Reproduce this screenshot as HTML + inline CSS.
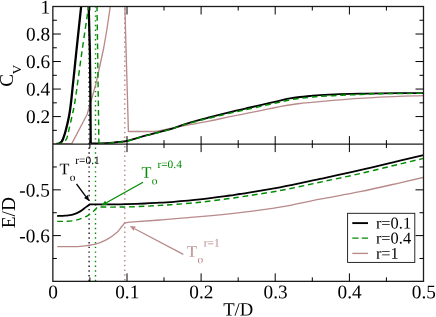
<!DOCTYPE html>
<html><head><meta charset="utf-8"><title>chart</title>
<style>html,body{margin:0;padding:0;background:#fff;}body{width:436px;height:317px;position:relative;overflow:hidden;font-family:"Liberation Serif",serif;}</style></head>
<body>
<svg width="436" height="317" viewBox="0 0 436 317" style="position:absolute;left:0;top:0;will-change:transform">
<rect x="0" y="0" width="436" height="317" fill="#fff"/>
<defs><clipPath id="cu"><rect x="52.85" y="6.5" width="370.65" height="137.6"/></clipPath><clipPath id="cl"><rect x="52.85" y="144.1" width="370.65" height="137.25000000000003"/></clipPath></defs>
<g fill="none" stroke-dasharray="1.4 3.32">
<line x1="89.1" y1="281.15000000000003" x2="89.1" y2="6.5" stroke="#000" stroke-width="1.3"/>
<line x1="95.5" y1="281.15000000000003" x2="95.5" y2="6.5" stroke="#008b00" stroke-width="1.4"/>
<line x1="124.8" y1="280.5" x2="124.8" y2="6.5" stroke="#b98a8b" stroke-width="1.4" stroke-dasharray="1.4 3.35"/>
</g>
<g clip-path="url(#cu)" fill="none" stroke-linejoin="round">
<path d="M53.0,143.6 L71.8,143.6 L87.2,114.3 L95.9,84.0 L103.7,48.0 L106.8,30.0 L110.3,6.5 L111.3,0.0" stroke="#b98a8b" stroke-width="1.35"/>
<path d="M124.7,0.0 L124.9,6.5 L125.9,44.0 L128.4,131.5 L152.8,131.5" stroke="#b98a8b" stroke-width="1.35"/>
<path d="M152.80,131.50 C154.00,131.35 157.05,131.12 160.00,130.60 C162.95,130.08 165.50,129.40 170.50,128.40 C175.50,127.40 183.42,125.85 190.00,124.60 C196.58,123.35 203.33,122.22 210.00,120.90 C216.67,119.58 223.33,118.07 230.00,116.70 C236.67,115.33 243.33,114.03 250.00,112.70 C256.67,111.37 265.00,109.72 270.00,108.70 C275.00,107.68 275.00,107.47 280.00,106.60 C285.00,105.73 293.33,104.33 300.00,103.50 C306.67,102.67 313.33,102.22 320.00,101.60 C326.67,100.98 330.00,100.55 340.00,99.80 C350.00,99.05 366.08,97.80 380.00,97.10 C393.92,96.40 416.25,95.85 423.50,95.60" stroke="#b98a8b" stroke-width="1.35"/>
<path d="M56.50,144.00 C56.83,143.95 57.65,144.08 58.50,143.70 C59.35,143.32 60.78,142.67 61.60,141.70 C62.42,140.73 62.70,139.80 63.40,137.90 C64.10,136.00 64.83,134.08 65.80,130.30 C66.77,126.52 68.28,120.25 69.20,115.20 C70.12,110.15 70.12,110.53 71.30,100.00 C72.48,89.47 74.66,67.58 76.30,52.00 C77.94,36.42 80.23,15.17 81.15,6.50 C82.08,-2.17 81.73,1.08 81.85,0.00" stroke="#000" stroke-width="2.3"/>
<path d="M88.5,0.0 L88.7,6.5 L89.9,52.0 L90.3,84.0 L90.7,143.3" stroke="#000" stroke-width="2.3"/>
<path d="M90.70,143.30 C92.25,143.30 96.28,143.42 100.00,143.30 C103.72,143.18 109.67,142.83 113.00,142.60 C116.33,142.37 117.67,142.18 120.00,141.90 C122.33,141.62 122.80,141.93 127.00,140.90 C131.20,139.87 137.95,137.67 145.20,135.70 C152.45,133.73 164.70,130.75 170.50,129.10 C176.30,127.45 176.75,126.87 180.00,125.80 C183.25,124.73 186.08,123.87 190.00,122.70 C193.92,121.53 200.17,119.72 203.50,118.80 C206.83,117.88 207.25,117.88 210.00,117.20 C212.75,116.52 215.67,115.78 220.00,114.70 C224.33,113.62 231.00,111.90 236.00,110.70 C241.00,109.50 244.33,108.80 250.00,107.50 C255.67,106.20 265.00,104.05 270.00,102.90 C275.00,101.75 276.67,101.35 280.00,100.60 C283.33,99.85 286.67,99.00 290.00,98.40 C293.33,97.80 296.67,97.40 300.00,97.00 C303.33,96.60 306.67,96.32 310.00,96.00 C313.33,95.68 315.00,95.40 320.00,95.10 C325.00,94.80 333.33,94.43 340.00,94.20 C346.67,93.97 353.33,93.85 360.00,93.70 C366.67,93.55 369.42,93.40 380.00,93.30 C390.58,93.20 416.25,93.13 423.50,93.10" stroke="#000" stroke-width="1.8"/>
<path d="M56.50,144.20 C57.08,144.08 58.60,144.05 60.00,143.50 C61.40,142.95 63.75,141.83 64.90,140.90 C66.05,139.97 66.25,139.67 66.90,137.90 C67.55,136.13 67.92,134.08 68.80,130.30 C69.68,126.52 71.13,120.25 72.20,115.20 C73.27,110.15 73.58,110.53 75.20,100.00 C76.82,89.47 79.67,67.58 81.90,52.00 C84.13,36.42 87.33,15.17 88.60,6.50 C89.87,-2.17 89.35,1.08 89.50,0.00" stroke="#008b00" stroke-width="1.45" stroke-dasharray="5.7 3.8"/>
<path d="M96.9,0.0 L97.0,6.5 L98.9,143.8 " stroke="#008b00" stroke-width="1.45" stroke-dasharray="5.7 3.8" stroke-dashoffset="4"/>
<path d="M98.90,143.80 C101.25,143.64 109.48,143.09 113.00,142.81 C116.52,142.53 117.67,142.40 120.00,142.12 C122.33,141.83 122.80,142.15 127.00,141.12 C131.20,140.09 137.95,137.89 145.20,135.93 C152.45,133.97 164.70,130.99 170.50,129.34 C176.30,127.70 176.75,127.09 180.00,126.05 C183.25,125.01 186.08,124.23 190.00,123.12 C193.92,122.02 200.17,120.31 203.50,119.45 C206.83,118.58 207.25,118.58 210.00,117.93 C212.75,117.29 215.67,116.60 220.00,115.57 C224.33,114.54 231.00,112.90 236.00,111.76 C241.00,110.62 244.33,109.94 250.00,108.70 C255.67,107.46 265.00,105.40 270.00,104.30 C275.00,103.20 276.67,102.84 280.00,102.10 C283.33,101.36 286.67,100.47 290.00,99.85 C293.33,99.23 296.67,98.82 300.00,98.40 C303.33,97.98 306.67,97.68 310.00,97.35 C313.33,97.02 315.00,96.74 320.00,96.40 C325.00,96.06 333.33,95.62 340.00,95.30 C346.67,94.98 353.33,94.77 360.00,94.50 C366.67,94.23 369.42,93.90 380.00,93.70 C390.58,93.50 416.25,93.37 423.50,93.30" stroke="#008b00" stroke-width="1.45" stroke-dasharray="5.7 3.8"/>
</g>
<g clip-path="url(#cl)" fill="none" stroke-linejoin="round">
<path d="M57.20,246.70 C59.33,246.68 66.17,246.67 70.00,246.60 C73.83,246.53 75.97,246.72 80.20,246.30 C84.43,245.88 90.98,245.20 95.40,244.10 C99.82,243.00 103.23,241.53 106.70,239.70 C110.17,237.87 113.68,235.30 116.20,233.10 C118.72,230.90 120.45,228.15 121.80,226.50 C123.15,224.85 123.88,223.75 124.30,223.20 L124.30,223.20 C125.25,223.03 124.05,222.73 130.00,222.20 C135.95,221.67 148.33,220.92 160.00,220.00 C171.67,219.08 186.67,217.93 200.00,216.70 C213.33,215.47 226.67,214.18 240.00,212.60 C253.33,211.02 266.67,209.43 280.00,207.20 C293.33,204.97 306.67,201.78 320.00,199.20 C333.33,196.62 346.67,194.43 360.00,191.70 C373.33,188.97 389.33,185.22 400.00,182.80 C410.67,180.38 420.00,178.13 424.00,177.20" stroke="#b98a8b" stroke-width="1.35"/>
<path d="M57.20,216.00 C58.50,215.95 62.42,215.92 65.00,215.70 C67.58,215.48 70.17,215.42 72.70,214.70 C75.23,213.98 78.00,212.67 80.20,211.40 C82.40,210.13 84.30,208.28 85.90,207.10 C87.50,205.92 89.15,204.77 89.80,204.30 L89.80,204.30 C93.67,204.30 106.80,204.33 113.00,204.30 C119.20,204.27 121.67,204.23 127.00,204.10 C132.33,203.97 139.50,203.73 145.00,203.50 C150.50,203.27 155.75,202.93 160.00,202.70 C164.25,202.47 163.83,202.65 170.50,202.10 C177.17,201.55 190.08,200.50 200.00,199.40 C209.92,198.30 223.33,196.40 230.00,195.50 C236.67,194.60 231.67,195.37 240.00,194.00 C248.33,192.63 266.67,189.82 280.00,187.30 C293.33,184.78 306.67,181.75 320.00,178.90 C333.33,176.05 346.67,173.23 360.00,170.20 C373.33,167.17 389.42,163.22 400.00,160.70 C410.58,158.18 419.58,156.03 423.50,155.10" stroke="#000" stroke-width="1.8"/>
<path d="M57.20,221.40 C58.50,221.38 62.42,221.40 65.00,221.30 C67.58,221.20 70.17,221.20 72.70,220.80 C75.23,220.40 77.68,219.77 80.20,218.90 C82.72,218.03 85.58,216.88 87.80,215.60 C90.02,214.32 91.97,212.55 93.50,211.20 C95.03,209.85 96.42,208.12 97.00,207.50 L97.00,207.50 C97.42,207.43 96.83,207.17 99.50,207.10 C102.17,207.03 108.42,207.13 113.00,207.10 C117.58,207.07 121.67,207.03 127.00,206.90 C132.33,206.77 139.50,206.55 145.00,206.30 C150.50,206.05 155.75,205.65 160.00,205.40 C164.25,205.15 163.83,205.32 170.50,204.80 C177.17,204.28 190.08,203.35 200.00,202.30 C209.92,201.25 223.33,199.38 230.00,198.50 C236.67,197.62 231.67,198.32 240.00,197.00 C248.33,195.68 266.67,193.07 280.00,190.60 C293.33,188.13 306.67,185.03 320.00,182.20 C333.33,179.37 346.67,176.63 360.00,173.60 C373.33,170.57 389.42,166.53 400.00,164.00 C410.58,161.47 419.58,159.33 423.50,158.40" stroke="#008b00" stroke-width="1.45" stroke-dasharray="5.7 3.8"/>
</g>
<g stroke="#1c1c1c" stroke-width="1.3" fill="none">
<rect x="52.85" y="6.5" width="370.65" height="274.85"/>
<line x1="52.85" y1="144.1" x2="423.5" y2="144.1"/>
</g>
<g stroke="#000" stroke-width="1.0" fill="none">
<line x1="89.9" y1="6.5" x2="89.9" y2="10.5"/>
<line x1="89.9" y1="140.1" x2="89.9" y2="148.1"/>
<line x1="89.9" y1="277.35" x2="89.9" y2="281.35"/>
<line x1="127.0" y1="6.5" x2="127.0" y2="14.5"/>
<line x1="127.0" y1="136.1" x2="127.0" y2="152.1"/>
<line x1="127.0" y1="273.35" x2="127.0" y2="281.35"/>
<line x1="164.0" y1="6.5" x2="164.0" y2="10.5"/>
<line x1="164.0" y1="140.1" x2="164.0" y2="148.1"/>
<line x1="164.0" y1="277.35" x2="164.0" y2="281.35"/>
<line x1="201.1" y1="6.5" x2="201.1" y2="14.5"/>
<line x1="201.1" y1="136.1" x2="201.1" y2="152.1"/>
<line x1="201.1" y1="273.35" x2="201.1" y2="281.35"/>
<line x1="238.2" y1="6.5" x2="238.2" y2="10.5"/>
<line x1="238.2" y1="140.1" x2="238.2" y2="148.1"/>
<line x1="238.2" y1="277.35" x2="238.2" y2="281.35"/>
<line x1="275.2" y1="6.5" x2="275.2" y2="14.5"/>
<line x1="275.2" y1="136.1" x2="275.2" y2="152.1"/>
<line x1="275.2" y1="273.35" x2="275.2" y2="281.35"/>
<line x1="312.3" y1="6.5" x2="312.3" y2="10.5"/>
<line x1="312.3" y1="140.1" x2="312.3" y2="148.1"/>
<line x1="312.3" y1="277.35" x2="312.3" y2="281.35"/>
<line x1="349.4" y1="6.5" x2="349.4" y2="14.5"/>
<line x1="349.4" y1="136.1" x2="349.4" y2="152.1"/>
<line x1="349.4" y1="273.35" x2="349.4" y2="281.35"/>
<line x1="386.4" y1="6.5" x2="386.4" y2="10.5"/>
<line x1="386.4" y1="140.1" x2="386.4" y2="148.1"/>
<line x1="386.4" y1="277.35" x2="386.4" y2="281.35"/>
<line x1="52.85" y1="130.34" x2="56.85" y2="130.34"/>
<line x1="419.5" y1="130.34" x2="423.5" y2="130.34"/>
<line x1="52.85" y1="116.58" x2="60.85" y2="116.58"/>
<line x1="415.5" y1="116.58" x2="423.5" y2="116.58"/>
<line x1="52.85" y1="102.82" x2="56.85" y2="102.82"/>
<line x1="419.5" y1="102.82" x2="423.5" y2="102.82"/>
<line x1="52.85" y1="89.06" x2="60.85" y2="89.06"/>
<line x1="415.5" y1="89.06" x2="423.5" y2="89.06"/>
<line x1="52.85" y1="75.30" x2="56.85" y2="75.30"/>
<line x1="419.5" y1="75.30" x2="423.5" y2="75.30"/>
<line x1="52.85" y1="61.54" x2="60.85" y2="61.54"/>
<line x1="415.5" y1="61.54" x2="423.5" y2="61.54"/>
<line x1="52.85" y1="47.78" x2="56.85" y2="47.78"/>
<line x1="419.5" y1="47.78" x2="423.5" y2="47.78"/>
<line x1="52.85" y1="34.02" x2="60.85" y2="34.02"/>
<line x1="415.5" y1="34.02" x2="423.5" y2="34.02"/>
<line x1="52.85" y1="20.26" x2="56.85" y2="20.26"/>
<line x1="419.5" y1="20.26" x2="423.5" y2="20.26"/>
<line x1="52.85" y1="166.97" x2="56.85" y2="166.97"/>
<line x1="419.5" y1="166.97" x2="423.5" y2="166.97"/>
<line x1="52.85" y1="189.85" x2="60.85" y2="189.85"/>
<line x1="415.5" y1="189.85" x2="423.5" y2="189.85"/>
<line x1="52.85" y1="212.73" x2="56.85" y2="212.73"/>
<line x1="419.5" y1="212.73" x2="423.5" y2="212.73"/>
<line x1="52.85" y1="235.60" x2="60.85" y2="235.60"/>
<line x1="415.5" y1="235.60" x2="423.5" y2="235.60"/>
<line x1="52.85" y1="258.48" x2="56.85" y2="258.48"/>
<line x1="419.5" y1="258.48" x2="423.5" y2="258.48"/>
</g>
<rect x="347.6" y="213.3" width="67.2" height="49.1" fill="#fff" stroke="#111" stroke-width="0.9"/>
<line x1="352.3" y1="223.1" x2="368" y2="223.1" stroke="#000" stroke-width="1.9"/>
<line x1="352.3" y1="238.1" x2="368" y2="238.1" stroke="#008b00" stroke-width="1.45" stroke-dasharray="6.2 3.3"/>
<line x1="352.3" y1="253.4" x2="368" y2="253.4" stroke="#b98a8b" stroke-width="1.35"/>
<g font-family="'Liberation Serif', serif">
<text transform="translate(375.9,228.4) rotate(0.03)" font-size="16.4px" text-anchor="start" fill="#000">r=0.1</text>
<text transform="translate(375.9,243.6) rotate(0.03)" font-size="16.4px" text-anchor="start" fill="#000">r=0.4</text>
<text transform="translate(375.9,258.7) rotate(0.03)" font-size="16.4px" text-anchor="start" fill="#000">r=1</text>
<text transform="translate(50.2,13.5) rotate(0.03)" font-size="19.3px" text-anchor="end" fill="#000">1</text>
<text transform="translate(50.2,40.5) rotate(0.03)" font-size="19.3px" text-anchor="end" fill="#000">0.8</text>
<text transform="translate(50.2,68.0) rotate(0.03)" font-size="19.3px" text-anchor="end" fill="#000">0.6</text>
<text transform="translate(50.2,95.5) rotate(0.03)" font-size="19.3px" text-anchor="end" fill="#000">0.4</text>
<text transform="translate(50.2,123.0) rotate(0.03)" font-size="19.3px" text-anchor="end" fill="#000">0.2</text>
<text transform="translate(49.8,196.5) rotate(0.03)" font-size="19.3px" text-anchor="end" fill="#000">-0.5</text>
<text transform="translate(49.8,242.3) rotate(0.03)" font-size="19.3px" text-anchor="end" fill="#000">-0.6</text>
<text transform="translate(53.15,298.3) rotate(0.03)" font-size="19.3px" text-anchor="middle" fill="#000">0</text>
<text transform="translate(127.28,298.3) rotate(0.03)" font-size="19.3px" text-anchor="middle" fill="#000">0.1</text>
<text transform="translate(201.41,298.3) rotate(0.03)" font-size="19.3px" text-anchor="middle" fill="#000">0.2</text>
<text transform="translate(275.54,298.3) rotate(0.03)" font-size="19.3px" text-anchor="middle" fill="#000">0.3</text>
<text transform="translate(349.67,298.3) rotate(0.03)" font-size="19.3px" text-anchor="middle" fill="#000">0.4</text>
<text transform="translate(423.8,298.3) rotate(0.03)" font-size="19.3px" text-anchor="middle" fill="#000">0.5</text>
<text transform="translate(238.2,315.4) rotate(0.03)" font-size="18.7px" text-anchor="middle" fill="#000">T/D</text>
<text transform="translate(15.2,212.7) rotate(-90)" font-size="19.3px" text-anchor="middle" fill="#000">E/D</text>
<text transform="translate(13.4,86.8) rotate(-90)" font-size="19.3px" text-anchor="start" fill="#000">C</text>
<text transform="translate(21.2,74.2) rotate(-90)" font-size="13.2px" text-anchor="start" fill="#000">V</text>
<text transform="translate(59.6,174.2) rotate(0.03)" font-size="16.2px" text-anchor="start" fill="#000">T</text>
<text transform="translate(69.8,181.0) rotate(0.03)" font-size="11.4px" text-anchor="start" fill="#000">o</text>
<text transform="translate(75.3,164.1) rotate(0.03)" font-size="11.4px" text-anchor="start" fill="#000">r=0.1</text>
<text transform="translate(141.5,177.8) rotate(0.03)" font-size="16.2px" text-anchor="start" fill="#008b00">T</text>
<text transform="translate(151.8,184.4) rotate(0.03)" font-size="11.4px" text-anchor="start" fill="#008b00">o</text>
<text transform="translate(157.4,168.1) rotate(0.03)" font-size="11.4px" text-anchor="start" fill="#008b00">r=0.4</text>
<text transform="translate(187.1,256.8) rotate(0.03)" font-size="16.2px" text-anchor="start" fill="#b98a8b">T</text>
<text transform="translate(197.4,263.2) rotate(0.03)" font-size="11.4px" text-anchor="start" fill="#b98a8b">o</text>
<text transform="translate(203.7,246.5) rotate(0.03)" font-size="11.4px" text-anchor="start" fill="#b98a8b">r=1</text>
</g>
<line x1="76.5" y1="184" x2="85.93" y2="196.53" stroke="#000" stroke-width="1.3"/>
<polygon points="89.30,201.00 84.01,197.97 87.85,195.08" fill="#000"/>
<line x1="143" y1="182.3" x2="106.29" y2="202.77" stroke="#008b00" stroke-width="1.3"/>
<polygon points="101.40,205.50 105.12,200.68 107.46,204.87" fill="#008b00"/>
<line x1="183.3" y1="254.4" x2="134.65" y2="228.71" stroke="#b98a8b" stroke-width="1.3"/>
<polygon points="129.70,226.10 135.77,226.59 133.53,230.84" fill="#b98a8b"/>
</svg>
</body></html>
